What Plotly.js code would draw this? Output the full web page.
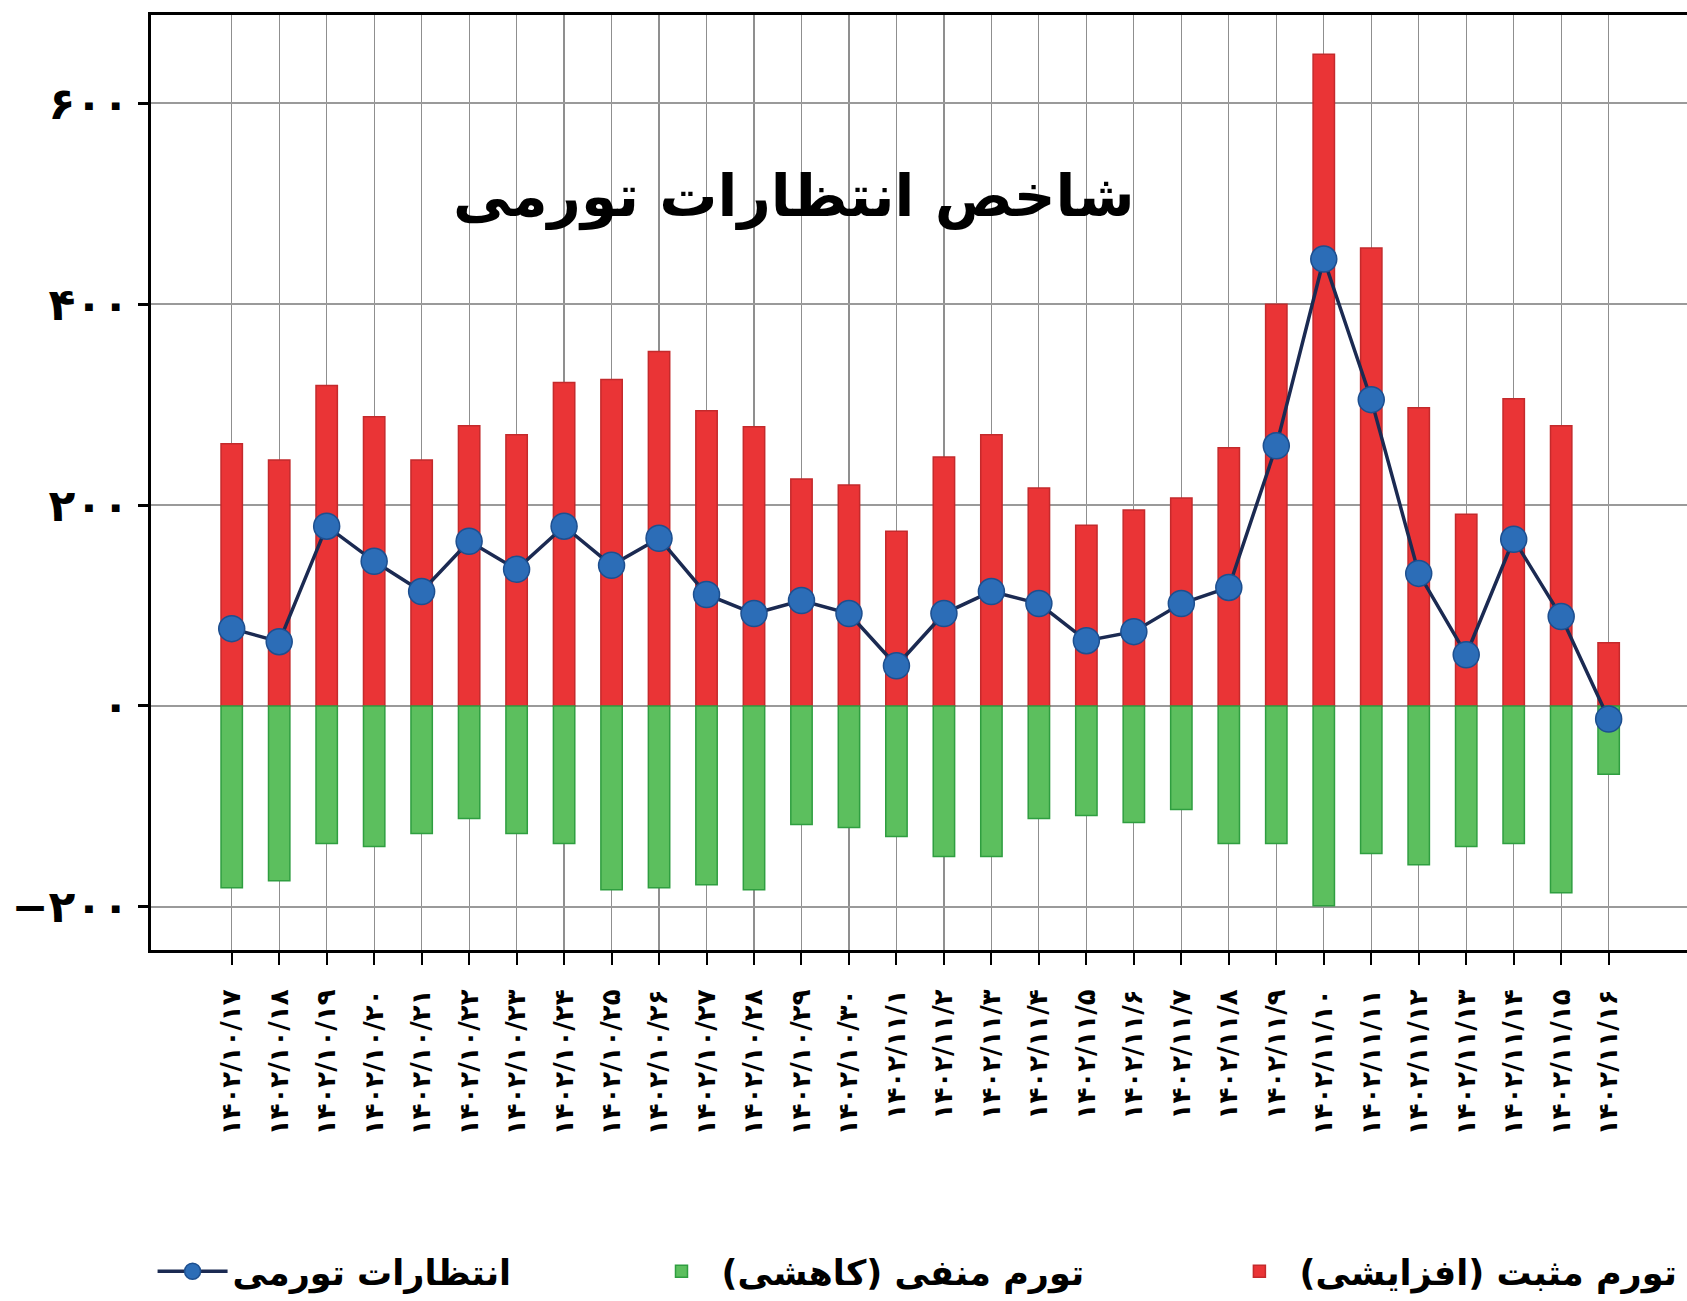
<!DOCTYPE html>
<html>
<head>
<meta charset="utf-8">
<script src="https://cdn.plot.ly/plotly-3.0.1.min.js"></script>
<style>
html,body{margin:0;padding:0;background:#fff;}
#chart{width:1687px;height:1301px;}
</style>
</head>
<body>
<div id="chart"></div>
<script>
// Categories (dates, Persian calendar)
var dates = [
  "۱۴۰۲/۱۰/۱۷","۱۴۰۲/۱۰/۱۸","۱۴۰۲/۱۰/۱۹","۱۴۰۲/۱۰/۲۰","۱۴۰۲/۱۰/۲۱","۱۴۰۲/۱۰/۲۲",
  "۱۴۰۲/۱۰/۲۳","۱۴۰۲/۱۰/۲۴","۱۴۰۲/۱۰/۲۵","۱۴۰۲/۱۰/۲۶","۱۴۰۲/۱۰/۲۷","۱۴۰۲/۱۰/۲۸",
  "۱۴۰۲/۱۰/۲۹","۱۴۰۲/۱۰/۳۰","۱۴۰۲/۱۱/۱","۱۴۰۲/۱۱/۲","۱۴۰۲/۱۱/۳","۱۴۰۲/۱۱/۴",
  "۱۴۰۲/۱۱/۵","۱۴۰۲/۱۱/۶","۱۴۰۲/۱۱/۷","۱۴۰۲/۱۱/۸","۱۴۰۲/۱۱/۹","۱۴۰۲/۱۱/۱۰",
  "۱۴۰۲/۱۱/۱۱","۱۴۰۲/۱۱/۱۲","۱۴۰۲/۱۱/۱۳","۱۴۰۲/۱۱/۱۴","۱۴۰۲/۱۱/۱۵","۱۴۰۲/۱۱/۱۶"
];

// Positive (increasing) inflation
var positive = [261,245,319,288,245,279,270,322,325,353,294,278,226,220,174,248,270,217,180,195,207,257,400,649,456,297,191,306,279,63];

// Negative (decreasing) inflation
var negative = [-181,-174,-137,-140,-127,-112,-127,-137,-183,-181,-178,-183,-118,-121,-130,-150,-150,-112,-109,-116,-103,-137,-137,-199,-147,-158,-140,-137,-186,-68];

// Inflation expectations index
var expectations = [77,64,179,144,114,164,136,179,140,167,111,92,105,92,40,92,114,102,65,74,102,118,259,445,305,132,51,166,89,-13];

// Y axis ticks
var yTickVals = [-200,0,200,400,600];
var yTickText = ["−۲۰۰","۰","۲۰۰","۴۰۰","۶۰۰"];

// Texts
var chartTitle = "شاخص انتظارات تورمی";
var namePositive = "تورم مثبت (افزایشی)";
var nameNegative = "تورم منفی (کاهشی)";
var nameExpect = "انتظارات تورمی";

var FONT = "DejaVu Sans, Noto Sans, sans-serif";

var traces = [
  {
    type: "bar", x: dates, y: positive, name: namePositive, legend: "legend3",
    width: 0.45,
    marker: {color: "#ea3436", line: {color: "#c42a2c", width: 1.5}}
  },
  {
    type: "bar", x: dates, y: negative, name: nameNegative, legend: "legend2",
    width: 0.45,
    marker: {color: "#5cbf5e", line: {color: "#2f9e40", width: 1.5}}
  },
  {
    type: "scatter", mode: "lines+markers", x: dates, y: expectations, name: nameExpect,
    legend: "legend",
    line: {color: "#1b2a52", width: 3.5},
    marker: {color: "#2c6db7", size: 26, line: {color: "#1d4f8f", width: 1.5}}
  }
];

var legendFont = {family: FONT, size: 35, color: "#000", weight: "bold"};

var layout = {
  width: 1687, height: 1301,
  paper_bgcolor: "#fff", plot_bgcolor: "#fff",
  margin: {l: 151, r: 0, t: 15, b: 347},
  barmode: "relative",
  showlegend: true,
  font: {family: FONT, color: "#000"},
  xaxis: {
    type: "category",
    range: [-1.70, 30.65],
    showline: true, linecolor: "#000", linewidth: 3, mirror: true,
    showgrid: true, gridcolor: "#8f8f8f", gridwidth: 1.2,
    ticks: "outside", ticklen: 12, tickwidth: 2, tickcolor: "#000",
    tickangle: -90,
    ticklabelstandoff: 14,
    tickfont: {family: FONT, size: 26, color: "#000", weight: "bold"},
    fixedrange: true
  },
  yaxis: {
    range: [-243, 688],
    tickvals: yTickVals, ticktext: yTickText,
    showline: true, linecolor: "#000", linewidth: 3, mirror: false,
    showgrid: true, gridcolor: "#9a9a9a", gridwidth: 2,
    zeroline: false,
    ticks: "outside", ticklen: 10, tickwidth: 3, tickcolor: "#000",
    tickfont: {family: FONT, size: 44, color: "#000", weight: "bold"},
    fixedrange: true
  },
  legend: {
    x: 0.238, y: -0.344, xanchor: "right", yanchor: "middle",
    orientation: "h", font: legendFont, bgcolor: "rgba(0,0,0,0)", itemwidth: 70
  },
  legend2: {
    x: 0.611, y: -0.344, xanchor: "right", yanchor: "middle",
    orientation: "h", font: legendFont, bgcolor: "rgba(0,0,0,0)", itemwidth: 70
  },
  legend3: {
    x: 0.997, y: -0.344, xanchor: "right", yanchor: "middle",
    orientation: "h", font: legendFont, bgcolor: "rgba(0,0,0,0)", itemwidth: 70
  },
  annotations: [{
    text: chartTitle, xref: "paper", yref: "paper",
    x: 0.418, y: 0.806, xanchor: "center", yanchor: "middle",
    showarrow: false,
    font: {family: FONT, size: 58, color: "#000", weight: "bold"}
  }]
};

Plotly.newPlot("chart", traces, layout, {displayModeBar: false, staticPlot: true});
</script>
</body>
</html>
